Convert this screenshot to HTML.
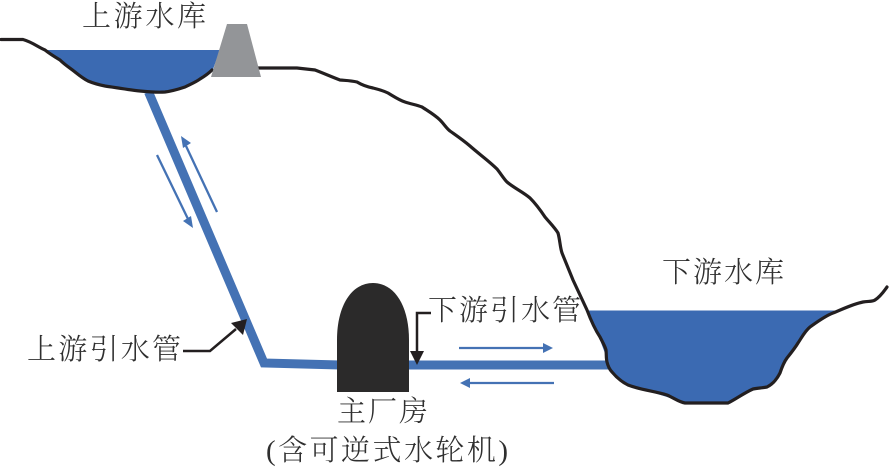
<!DOCTYPE html>
<html>
<head>
<meta charset="utf-8">
<style>
html,body{margin:0;padding:0;background:#fff;width:890px;height:470px;overflow:hidden}
svg{display:block}
text{font-family:"Liberation Serif","Noto Serif CJK SC",serif;font-size:29px;fill:#2f2f2f;font-weight:300}
</style>
</head>
<body>
<svg width="890" height="470" viewBox="0 0 890 470" xmlns="http://www.w3.org/2000/svg">
<rect width="890" height="470" fill="#fff"/>
<!-- upper reservoir -->
<path d="M45,50 H220 L212,72 L200,80 L185,88 L165,93 L140,92 L105,87 L88,82 L75,73 L60,61 Z" fill="#3b6ab2"/>
<!-- lower reservoir -->
<path d="M587,310.500 H835 L810,327 L798,343 L787,358 L780,373 L767,387 L753,390 L728,403 H685 L667,397 L628,385 L612,372 L600,340 Z" fill="#3b6ab2"/>
<!-- pipe -->
<polyline points="148.500,92 264,363 340,365 610,365" fill="none" stroke="#4472b4" stroke-width="9" stroke-linejoin="miter"/>
<!-- terrain -->
<path d="M1,39.500 L23,39.500 C32,42 38,47 45,50 C50,54 55,57 60,60 C65,65 70,68 75,72 C80,76 84,79 88,81 C95,84 100,85 105,86 C118,88 130,90 140,91 C150,92 158,92.500 165,92 C173,91 179,89 185,87 C191,84 196,82 200,79 C205,76 209,73 212,70" fill="none" stroke="#231f20" stroke-width="3.200" stroke-linecap="round"/>
<path d="M258,68 L297,68 L315,70 C323,73 332,77 340,80 C346,80.500 351,80.500 357,82 C362,85 368,87 373,88 C379,89.500 384,91 388,93 C394,96.500 399,100 405,102 C411,104 417,105 422,107 C428,111 435,115 440,120 C444,124 447,129 450,131 C457,136 463,140 470,146 C479,154 489,161 497,169 C501,174 504,179 507,182 C514,188 523,192 530,198 C536,204 541,211 545,217 C550,223 555,228 558,233 C560,240 560,247 562,253 L573,280 L587,310 C590,318 594,328 600,337 C603,343 605,346 606,350 C606.500,355 606,358 607,362 C608,366 610,370 612,372 C617,378 622,382 628,385 C641,390 654,391 667,395 C674,398 679,402 685,403 L728,403 C736,399 744,393 753,389 C758,388 762,388 767,387 C773,384 777,379 780,373 C782,367 784,362 787,358 C791,353 795,348 798,343 C802,337 805,331 810,327 C817,322 825,316 833,313 C843,309 853,304 863,302 C868,301 872,302 875,300 C881,296 884,291 887,287" fill="none" stroke="#231f20" stroke-width="3.200" stroke-linecap="round"/>
<!-- dam -->
<polygon points="227,24 247,24 261,77 211,77" fill="#939598"/>
<!-- powerhouse -->
<path d="M337,392 V340 C337,305 352,283 373,283 C394,283 409,305 409,340 V392 Z" fill="#2b2a2a"/>
<!-- flow arrows -->
<g stroke="#4472b4" stroke-width="2.300" fill="none">
<line x1="217" y1="212" x2="186" y2="146"/>
<line x1="157" y1="155" x2="188" y2="219"/>
<line x1="459" y1="348" x2="544" y2="348"/>
<line x1="554" y1="383" x2="468" y2="383"/>
</g>
<g fill="#4472b4">
<polygon points="181,136 191,143 183,148"/>
<polygon points="193,228 183,221 191,216"/>
<polygon points="553,348 543,343 543,353"/>
<polygon points="460,383 470,378 470,388"/>
</g>
<!-- leader arrows -->
<polyline points="183,351 210,351 236,329" fill="none" stroke="#231f20" stroke-width="2.500"/>
<polygon points="247,319 231,323 243,335" fill="#231f20"/>
<polyline points="431,313 417,313 417,353" fill="none" stroke="#231f20" stroke-width="2.500"/>
<polygon points="417,365 410,351 424,351" fill="#231f20"/>
<!-- labels -->
<text x="82" y="26" textLength="124" lengthAdjust="spacing">上游水库</text>
<text x="662" y="282" textLength="122" lengthAdjust="spacing">下游水库</text>
<text x="27" y="359" textLength="154" lengthAdjust="spacing">上游引水管</text>
<text x="428" y="320" textLength="153" lengthAdjust="spacing">下游引水管</text>
<text x="337" y="421" textLength="91" lengthAdjust="spacing">主厂房</text>
<text x="266" y="460" textLength="242" lengthAdjust="spacing">(含可逆式水轮机)</text>
</svg>
</body>
</html>
